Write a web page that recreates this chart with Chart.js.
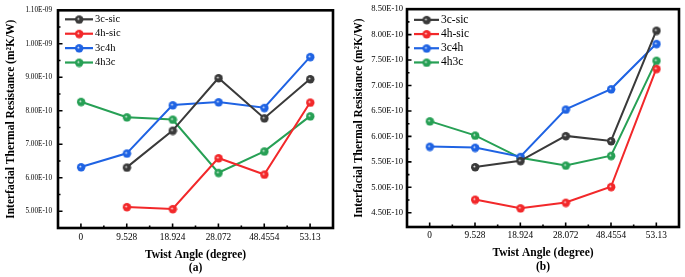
<!DOCTYPE html>
<html>
<head>
<meta charset="utf-8">
<script src="https://cdn.jsdelivr.net/npm/chart.js@4.4.0/dist/chart.umd.min.js"></script>
<style>
  body { margin: 0; background: #fff; }
  #wrap { position: relative; width: 685px; height: 277px; }
  canvas { position: absolute; top: 0; }
</style>
</head>
<body>
<div id="wrap">
  <canvas id="chartA" width="340" height="277" style="left:0"></canvas>
  <canvas id="chartB" width="345" height="277" style="left:340px"></canvas>
</div>
<script>
// categories
const angles = ['0', '9.528', '18.924', '28.072', '48.4554', '53.13'];
const seriesNames = ['3c-sic', '4h-sic', '3c4h', '4h3c'];
const seriesColors = ['#3a3a3a', '#f2282a', '#1f63e3', '#27a055'];

// panel (a)
const a3cSic = [null, 6.31e-10, 7.41e-10, 8.98e-10, 7.78e-10, 8.95e-10];
const a4hSic = [null, 5.13e-10, 5.07e-10, 6.59e-10, 6.10e-10, 8.25e-10];
const a3c4h  = [6.32e-10, 6.73e-10, 8.17e-10, 8.26e-10, 8.09e-10, 9.61e-10];
const a4h3c  = [8.27e-10, 7.81e-10, 7.74e-10, 6.15e-10, 6.79e-10, 7.84e-10];
const aTicks = [5e-10, 6e-10, 7e-10, 8e-10, 9e-10, 1e-9, 1.1e-9];

// panel (b)
const b3cSic = [null, 5.40e-10, 5.52e-10, 6.01e-10, 5.91e-10, 8.08e-10];
const b4hSic = [null, 4.76e-10, 4.59e-10, 4.70e-10, 5.01e-10, 7.33e-10];
const b3c4h  = [5.80e-10, 5.78e-10, 5.60e-10, 6.53e-10, 6.93e-10, 7.82e-10];
const b4h3c  = [6.30e-10, 6.02e-10, 5.58e-10, 5.43e-10, 5.62e-10, 7.49e-10];
const bTicks = [4.5e-10, 5e-10, 5.5e-10, 6e-10, 6.5e-10, 7e-10, 7.5e-10, 8e-10, 8.5e-10];

const SERIF = '"Liberation Serif", "Times New Roman", serif';

// "1.10E-09" style labels
function fmtE(v) {
  const e = Math.floor(Math.log10(v) + 1e-6);
  const m = v / Math.pow(10, e);
  const ee = Math.abs(e);
  return m.toFixed(2) + 'E' + (e < 0 ? '-' : '+') + (ee < 10 ? '0' + ee : ee);
}

// shaded ball marker
function makeMarker(color, r) {
  const c = document.createElement('canvas');
  c.width = c.height = r * 2 + 2;
  const g = c.getContext('2d');
  const cx = r + 1;
  const grad = g.createRadialGradient(cx - r * 0.25, cx - r * 0.2, 0, cx, cx, r);
  grad.addColorStop(0, '#ffffff');
  grad.addColorStop(0.35, color);
  grad.addColorStop(1, color);
  g.beginPath();
  g.arc(cx, cx, r, 0, Math.PI * 2);
  g.fillStyle = grad;
  g.fill();
  return c;
}
const markers = seriesColors.map(c => makeMarker(c, 4.2));

// inward ticks + heavy frame
const frameTicks = {
  id: 'frameTicks',
  afterDatasetsDraw(chart) {
    const { ctx, chartArea: ca, scales: { x, y } } = chart;
    ctx.save();
    ctx.strokeStyle = '#000';
    ctx.lineWidth = 1.6;
    ctx.beginPath();
    for (let i = 0; i < angles.length; i++) {
      const px = x.getPixelForValue(i);
      ctx.moveTo(px, ca.bottom); ctx.lineTo(px, ca.bottom - 4.5);
      if (i < angles.length - 1) {
        const mx = (px + x.getPixelForValue(i + 1)) / 2;
        ctx.moveTo(mx, ca.bottom); ctx.lineTo(mx, ca.bottom - 2.5);
      }
    }
    const tv = y.ticks.map(t => t.value);
    tv.forEach((v, i) => {
      const py = y.getPixelForValue(v);
      ctx.moveTo(ca.left, py); ctx.lineTo(ca.left + 4.5, py);
      if (i < tv.length - 1) {
        const my = y.getPixelForValue((v + tv[i + 1]) / 2);
        ctx.moveTo(ca.left, my); ctx.lineTo(ca.left + 2.5, my);
      }
    });
    ctx.stroke();
    ctx.lineWidth = 2.6;
    ctx.strokeRect(ca.left, ca.top, ca.right - ca.left, ca.bottom - ca.top);
    ctx.restore();
  }
};

// legend with line + marker
const lineLegend = {
  id: 'lineLegend',
  afterDatasetsDraw(chart, args, opts) {
    const { ctx, chartArea: ca } = chart;
    ctx.save();
    ctx.font = opts.font;
    ctx.textBaseline = 'middle';
    chart.data.datasets.forEach((ds, i) => {
      const yy = ca.top + opts.top + i * opts.gap;
      const x0 = ca.left + opts.left;
      ctx.strokeStyle = ds.borderColor;
      ctx.lineWidth = 2.2;
      ctx.beginPath(); ctx.moveTo(x0, yy); ctx.lineTo(x0 + opts.len, yy); ctx.stroke();
      const img = ds.pointStyle;
      ctx.drawImage(img, x0 + opts.len / 2 - img.width / 2, yy - img.height / 2);
      ctx.fillStyle = '#000';
      ctx.fillText(ds.label, x0 + opts.len + 2, yy);
    });
    ctx.restore();
  }
};

function makeChart(id, series, ticks, ymin, ymax, cfg) {
  new Chart(document.getElementById(id), {
    type: 'line',
    data: {
      labels: angles,
      datasets: series.map((d, i) => ({
        label: seriesNames[i],
        data: d,
        borderColor: seriesColors[i],
        borderWidth: 2,
        pointStyle: markers[i],
        pointRadius: 4,
        tension: 0,
        clip: false
      }))
    },
    options: {
      responsive: false,
      animation: false,
      layout: { padding: cfg.pad },
      plugins: {
        legend: { display: false },
        tooltip: { enabled: false },
        lineLegend: cfg.legend
      },
      scales: {
        x: {
          type: 'category',
          offset: true,
          grid: { display: false, drawTicks: false },
          border: { display: false },
          ticks: { color: '#000', font: { family: SERIF, size: 9.3 }, padding: cfg.xPad, maxRotation: 0, autoSkip: false },
          title: {
            display: true,
            text: ['Twist Angle (degree)', cfg.tag],
            color: '#000',
            font: { family: SERIF, size: 11.5, weight: 'bold', lineHeight: cfg.titleLH },
            padding: { top: 0, bottom: cfg.xTitlePad }
          },
          afterFit(s) { s.height = cfg.xH; }
        },
        y: {
          min: ymin,
          max: ymax,
          grid: { display: false, drawTicks: false },
          border: { display: false },
          afterBuildTicks(s) { s.ticks = ticks.map(v => ({ value: v })); },
          ticks: { color: '#000', font: { family: SERIF, size: cfg.yFont }, padding: cfg.yPad, callback: v => fmtE(v) },
          title: {
            display: true,
            text: 'Interfacial Thermal Resistance (m\u00b2K/W)',
            color: '#000',
            font: { family: SERIF, size: 11.5, weight: 'bold', lineHeight: 1.2 },
            padding: { top: cfg.yTitlePad, bottom: 0 }
          },
          afterFit(s) { s.width = cfg.yW; }
        }
      }
    },
    plugins: [frameTicks, lineLegend]
  });
}

makeChart('chartA', [a3cSic, a4hSic, a3c4h, a4h3c], aTicks, 4.5e-10, 1.1e-9, {
  pad: { top: 7, right: 7, left: 0, bottom: 0 },
  tag: '(a)', xPad: 4, titleLH: 1.15, xTitlePad: 2.4, xH: 49,
  yFont: 7.2, yPad: 6, yTitlePad: 4, yW: 58,
  legend: { font: '10.5px ' + SERIF, left: 7, top: 9, gap: 14.4, len: 28 }
});

makeChart('chartB', [b3cSic, b4hSic, b3c4h, b4h3c], bTicks, 4.22e-10, 8.5e-10, {
  pad: { top: 5, right: 3, left: 0, bottom: 0 },
  tag: '(b)', xPad: 3.4, titleLH: 1.2, xTitlePad: 3.3, xH: 50,
  yFont: 8.6, yPad: 4, yTitlePad: 12, yW: 67,
  legend: { font: '11.5px ' + SERIF, left: 7, top: 10.7, gap: 14.2, len: 25 }
});
</script>
</body>
</html>
